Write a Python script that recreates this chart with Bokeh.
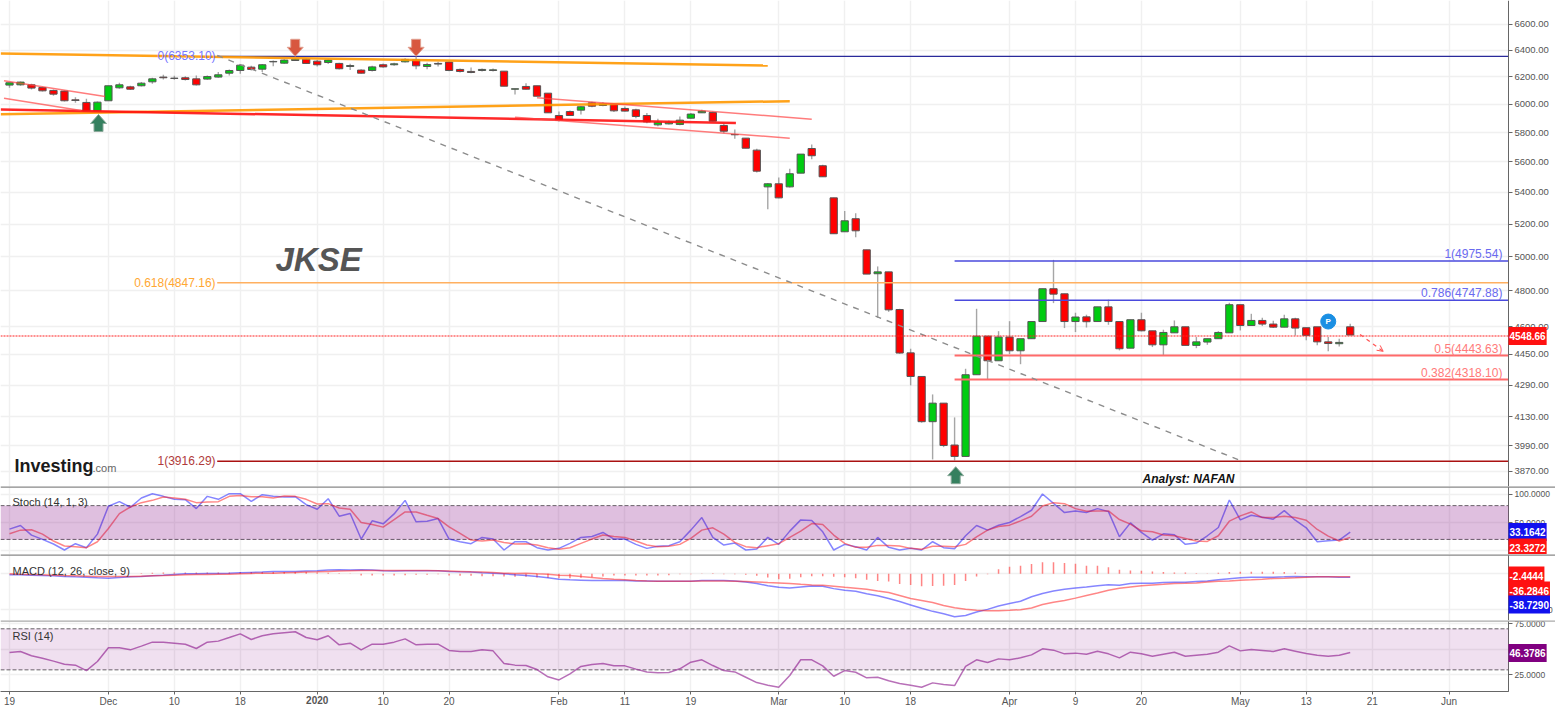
import math
from bokeh.plotting import figure
from bokeh.layouts import column
from bokeh.models import (Range1d, FixedTicker, NumeralTickFormatter, Span, BoxAnnotation, Label,
                          Arrow, OpenHead, LinearAxis, LogAxis)
from bokeh.embed import file_html
from bokeh.resources import INLINE

opens=[6139,6141,6141,6121,6100,6095,6032,6013,5953,6025,6119,6126,6134,6163,6198,6190,6193,6185,6183,6198,6227,6247,6272,6257,6312,6302,6322,6332,6317,6307,6300,6277,6250,6247,6290,6290,6312,6327,6277,6300,6310,6255,6240,6247,6247,6242,6109,6129,6134,6080,5920,5948,5958,6010,5991,5998,5970,5960,5920,5854,5861,5857,5901,5939,5941,5850,5785,5762,5680,5436,5456,5436,5526,5691,5575,5365,5152,5233,5042,4900,4911,4695,4458,4334,4106,4198,3993,3939,4343,4548,4416,4543,4469,4534,4628,4813,4784,4628,4654,4628,4710,4628,4483,4638,4577,4501,4566,4599,4498,4516,4534,4566,4722,4606,4634,4614,4597,4643,4594,4599,4517,4507,4599]
highs=[6156,6166,6148,6126,6107,6100,6051,6039,6020,6134,6156,6134,6161,6193,6215,6207,6205,6210,6210,6235,6255,6295,6282,6295,6322,6332,6340,6340,6325,6332,6305,6297,6257,6282,6300,6305,6340,6360,6305,6312,6317,6262,6269,6262,6262,6242,6112,6153,6134,6080,5948,5956,5986,6018,6015,6003,5984,5967,5937,5897,5885,5913,5937,5960,5948,5861,5822,5762,5689,5462,5497,5555,5653,5718,5581,5365,5281,5268,5042,4943,4911,4699,4480,4334,4242,4198,4127,4374,4699,4548,4575,4630,4532,4628,4813,4982,4784,4677,4666,4710,4750,4628,4638,4677,4577,4583,4634,4599,4543,4534,4575,4733,4722,4671,4649,4632,4666,4649,4594,4566,4543,4534,4616]
lows=[6119,6134,6107,6092,6061,6020,6010,5951,5951,6025,6112,6104,6129,6148,6180,6178,6173,6136,6178,6193,6210,6222,6247,6235,6279,6297,6320,6295,6277,6295,6255,6250,6222,6240,6267,6282,6307,6257,6257,6277,6242,6232,6227,6240,6240,6131,6070,6107,6058,5939,5878,5918,5927,5979,5986,5944,5948,5901,5866,5845,5857,5852,5897,5937,5878,5796,5757,5693,5530,5293,5363,5432,5526,5619,5500,5140,5150,5119,4898,4649,4682,4453,4288,4101,3925,3983,3920,3939,4343,4320,4416,4451,4398,4534,4628,4731,4592,4570,4595,4628,4610,4471,4483,4574,4489,4444,4566,4498,4483,4501,4534,4566,4579,4606,4603,4592,4597,4552,4525,4499,4466,4492,4554]
closes=[6156,6161,6117,6097,6073,6025,6027,5953,6015,6134,6141,6109,6153,6185,6193,6188,6180,6141,6202,6215,6247,6287,6255,6290,6315,6325,6332,6300,6290,6325,6260,6284,6227,6274,6274,6297,6330,6282,6292,6295,6247,6240,6232,6255,6252,6131,6112,6109,6058,5939,5887,5920,5982,5986,6003,5953,5951,5913,5875,5873,5873,5887,5930,5951,5880,5810,5787,5693,5539,5456,5365,5522,5653,5642,5502,5140,5220,5158,4898,4911,4693,4457,4334,4106,4198,3991,3939,4343,4548,4416,4543,4469,4534,4628,4813,4782,4628,4653,4627,4710,4628,4480,4638,4577,4501,4568,4599,4498,4517,4534,4568,4722,4606,4634,4614,4597,4643,4592,4552,4517,4508,4514,4554]
stoch_k=[38.3,44.7,27.7,20.0,11.8,1.2,12.4,5.3,29.4,78.8,87.1,77.1,93.5,101.2,96.5,91.2,90.6,74.7,96.5,91.2,101.2,101.2,87.6,99.4,96.5,95.3,95.9,81.8,73.5,92.3,61.2,65.9,20.6,53.0,47.7,65.3,89.4,51.2,52.4,57.1,20.6,15.9,12.4,23.6,20.6,1.2,15.9,15.9,5.3,1.2,4.1,13.0,23.6,25.3,32.4,20.6,20.6,11.2,4.1,7.7,8.9,15.9,36.5,58.8,23.6,10.0,13.6,1.2,3.0,23.6,11.2,34.7,54.7,53.5,33.5,1.2,11.2,7.1,1.2,23.6,5.9,1.2,4.1,1.2,15.9,5.3,3.6,26.5,44.7,36.5,45.3,50.0,60.6,71.8,100.6,84.1,67.7,70.6,67.7,74.7,69.4,24.7,49.4,32.4,18.8,30.0,28.3,11.2,13.6,26.5,41.2,90.0,54.7,62.9,59.4,55.9,71.2,54.1,40.6,15.9,17.7,18.8,33.0]
stoch_d=[30.0,36.5,37.1,29.4,17.1,8.3,7.1,5.3,15.9,39.4,65.9,77.6,85.3,89.4,95.3,93.5,91.2,85.3,86.5,87.1,96.5,98.2,95.9,95.9,93.5,97.1,96.5,91.2,82.9,83.5,75.9,73.5,50.0,46.5,41.8,55.3,68.8,68.8,62.9,57.1,42.4,30.6,18.8,17.1,18.8,14.7,11.8,12.4,10.0,5.3,2.4,5.3,13.0,20.6,27.7,25.3,23.6,17.1,10.0,7.1,7.7,11.2,21.8,36.5,40.6,29.4,14.7,7.1,5.3,8.9,12.4,23.6,34.7,48.2,46.5,27.7,13.0,5.9,5.9,9.4,9.4,8.3,4.1,2.4,7.7,7.7,7.1,11.2,24.7,36.5,43.0,45.3,53.0,61.2,79.4,85.3,83.5,74.7,70.0,70.6,70.6,55.3,47.1,35.3,33.5,27.7,26.5,21.8,17.1,16.5,26.5,52.4,61.8,68.8,58.8,58.8,61.2,58.8,54.1,37.7,25.9,17.1,23.6]
macd_line=[-11,-11,-15,-19,-22,-30,-34,-37,-45,-49,-41,-34,-30,-22,-15,-7,0,0,4,4,7,11,15,19,26,26,26,30,34,41,45,41,45,41,34,30,34,34,34,34,26,22,19,11,7,0,-11,-19,-30,-45,-60,-67,-71,-75,-75,-75,-75,-79,-79,-82,-82,-82,-82,-75,-75,-75,-79,-90,-108,-131,-150,-157,-146,-135,-138,-164,-183,-194,-221,-243,-273,-307,-344,-381,-415,-441,-475,-460,-422,-393,-355,-329,-303,-254,-217,-191,-172,-157,-146,-131,-120,-127,-108,-105,-105,-97,-93,-93,-86,-79,-67,-56,-45,-37,-37,-37,-34,-30,-34,-34,-34,-37,-37]
macd_signal=[0,-4,-7,-11,-15,-19,-22,-26,-30,-30,-30,-30,-26,-22,-19,-15,-11,-7,-7,-4,-4,0,4,7,7,11,15,19,22,26,30,34,37,37,37,37,37,37,37,34,30,26,22,19,15,7,4,7,0,-4,-15,-19,-30,-41,-52,-60,-67,-75,-79,-82,-82,-82,-82,-79,-79,-79,-82,-86,-90,-97,-101,-108,-116,-123,-127,-138,-150,-161,-172,-191,-206,-239,-273,-295,-318,-351,-374,-393,-404,-407,-407,-404,-396,-378,-340,-314,-295,-269,-239,-213,-183,-161,-146,-131,-123,-116,-108,-105,-101,-90,-82,-79,-71,-67,-60,-52,-49,-45,-37,-34,-34,-34,-34]
macd_hist=[0,0,0,0,0,0,0,0,0,0,0,0,7,11,15,15,15,15,15,15,15,19,19,19,19,19,19,19,15,11,7,4,-19,-19,-19,-19,-15,-11,-11,-4,-19,-22,-22,-26,-26,-30,-34,-34,-41,-45,-49,-49,-45,-37,-30,-19,-19,-19,-19,-19,-15,-4,-4,4,7,-4,-4,-11,-22,-41,-60,-56,-37,-26,-26,-34,-37,-49,-67,-79,-86,-112,-123,-138,-135,-131,-123,-79,-30,-4,49,79,90,108,127,127,120,112,90,90,71,45,37,34,26,19,15,15,7,4,11,19,22,22,22,22,19,15,7,4,0,0,0]
rsi=[46.9,47.9,43.7,41.4,38.5,35.5,34.6,29.3,38.1,51.5,51.5,49.5,53.1,57.0,57.0,56.0,55.0,50.8,57.0,58.0,61.5,65.1,59.6,63.2,65.1,66.1,67.1,61.5,59.3,63.2,54.4,56.0,49.5,55.0,55.0,57.0,60.2,54.4,55.0,55.0,48.9,47.9,47.9,49.5,48.5,36.2,34.6,34.3,30.3,23.2,20.2,26.1,33.3,35.2,36.2,33.9,33.9,30.7,28.0,27.1,27.4,31.0,37.5,39.8,34.2,29.3,28.0,22.8,17.6,15.0,13.1,24.5,39.8,39.8,33.9,23.8,29.3,27.7,22.2,22.8,19.3,16.7,15.0,13.1,17.3,15.7,14.7,33.3,39.8,37.2,40.7,39.8,41.7,44.6,50.5,49.2,45.6,46.3,45.3,48.2,45.6,41.7,47.2,45.6,43.3,45.3,47.2,43.3,44.3,45.3,47.2,53.4,48.5,49.8,48.9,47.9,50.5,48.2,45.9,44.3,43.3,44.3,46.9]

xtick_pos=[0,9,15,21,28,34,40,50,56,62,70,76,82,91,97,103,112,118,124,131]
xtick_lab=["19","Dec","10","18","2020","10","20","Feb","11","19","Mar","10","18","Apr","9","20","May","13","21","Jun"]
price_ticks=[6600,6400,6200,6000,5800,5600,5400,5200,5000,4800,4600,4450,4290,4130,3990,3870]

fib_left=[(6353.10,18.9,"0(6353.10)","#2a2a9a",1.2,"#7777ff"),
          (4847.16,18.9,"0.618(4847.16)","#ffb060",1.5,"#ffa733"),
          (3916.29,18.9,"1(3916.29)","#aa1111",1.5,"#b03a3a")]
fib_right=[(4975.54,86,"1(4975.54)","#4a4add",1.5,"#6a6af0"),
           (4747.88,86,"0.786(4747.88)","#4a4add",1.5,"#6a6af0"),
           (4443.63,86,"0.5(4443.63)","#ff6a6a",2,"#ff7a7a"),
           (4318.10,86,"0.382(4318.10)","#ff6a6a",2,"#ff7a7a")]
trends=[(-0.8,69.0,6375,6284,"#ff9800",2.5,0.9),
        (-0.8,71.0,5929,6022,"#ff9800",2.5,0.9),
        (-0.8,66.1,5963,5867,"#ff1111",2.5,0.9),
        (-0.5,8.7,6171,6056,"#ff4444",1.5,0.7),
        (-0.5,6.5,6044,5956,"#ff4444",1.5,0.7),
        (48.0,73.0,6047,5894,"#ff4444",1.5,0.7),
        (46.0,71.0,5908,5762,"#ff4444",1.5,0.7)]
fib_trend=(18.9,112.0,6360,3920)
last_price=4548.66
forecast=(122.9,125.0,4557,4466)
up_arrows=[(8.1,5927),(86.1,3891)]
down_arrows=[(26.0,6354),(37.0,6354)]
pivot=(120,4628)

FRAME_W=1555; AX=136.4; LEFT=-0.819; RIGHT_X=140.68; RSI_AXIS=8.9
n=len(closes)
assert all(len(a)==n==123 for a in (opens,highs,lows,closes,stoch_k,stoch_d,macd_line,macd_signal,macd_hist,rsi))
xs=list(range(n))
xr=Range1d(LEFT,RIGHT_X)
GRID="#f0f0f0"; AXC="#666666"; TXT="#555555"; FONT="Liberation Sans"

def make(h,yr,ticks,fmt,lab_size,ytype="linear",grid=None,bounds=None):
    p=figure(frame_width=FRAME_W,frame_height=h,x_range=xr,y_range=yr,y_axis_type=ytype,
             x_axis_location=None,y_axis_location=None,toolbar_location=None,
             output_backend="svg",min_border_left=0,min_border_top=0,min_border_bottom=0,min_border_right=0,
             background_fill_color="white",border_fill_color="white",outline_line_color=None)
    p.ygrid.ticker=FixedTicker(ticks=grid or ticks); p.ygrid.grid_line_color=GRID; p.ygrid.grid_line_width=1.5
    p.xgrid.ticker=FixedTicker(ticks=xtick_pos); p.xgrid.grid_line_color=GRID; p.xgrid.grid_line_width=1.5
    p.add_layout(BoxAnnotation(left=AX,fill_color="white",fill_alpha=1,line_color=None,level="underlay"))
    cls=LogAxis if ytype=="log" else LinearAxis
    kw=dict(bounds=bounds) if bounds else {}
    ax=cls(fixed_location=AX,ticker=FixedTicker(ticks=ticks),formatter=NumeralTickFormatter(format=fmt),
           major_label_text_font=FONT,major_label_text_font_size=lab_size,major_label_text_color=TXT,
           axis_line_color=AXC,major_tick_line_color=AXC,major_tick_out=4,major_tick_in=0,
           minor_tick_line_color=None,major_label_standoff=2,**kw)
    p.add_layout(ax,"right")
    return p

def tag(p,text,y):
    p.add_layout(Label(x=12,y=y,x_units="screen",y_units="screen",text=text,text_font=FONT,text_font_size="11px",
                       text_color="#333333",text_baseline="middle"))

def box(p,text,color,y=None,sy=None,size="10px"):
    kw=dict(y=y) if y is not None else dict(y=sy,y_units="screen")
    p.add_layout(Label(x=1508,x_units="screen",text=text,text_color="white",text_font=FONT,text_font_size=size,
                       text_font_style="bold",text_baseline="middle",background_fill_color=color,
                       padding=(1,5),**kw))

def levels(p,vals,color="#666666",dash="4 2",width=1):
    for v in vals:
        p.segment([LEFT],[v],[AX],[v],line_color=color,line_dash=dash,line_width=width)

# ---------- price panel
main=make(486,Range1d(3800,6792),price_ticks,"0.00","9.5px","log")
up=[i for i in xs if closes[i]>=opens[i]]; dn=[i for i in xs if closes[i]<opens[i]]
main.segment(xs,highs,xs,lows,line_color="#888888",line_width=1.4,line_alpha=0.75)
main.vbar(up,0.66,[closes[i] for i in up],[opens[i] for i in up],fill_color="#00cc11",line_color="#555555",line_width=1)
main.vbar(dn,0.66,[opens[i] for i in dn],[closes[i] for i in dn],fill_color="#ff0000",line_color="#555555",line_width=1)
for lv,i0,t,c,w,tc in fib_left+fib_right:
    main.segment([i0],[lv],[AX],[lv],line_color=c,line_width=w)
for a,b,c,d,col,w,al in trends:
    main.line([a,b],[c,d],line_color=col,line_width=w,line_alpha=al)
main.line(fib_trend[:2],fib_trend[2:],line_color="#8c8c8c",line_dash="6 6",line_width=1.4)
levels(main,[last_price],color="#ff2222",dash="2 1",width=1.2)
for lv,i0,t,c,w,tc in fib_left:
    main.add_layout(Label(x=18.75,y=lv,text=t,text_align="right",text_baseline="middle",text_color=tc,text_font=FONT,text_font_size="12px"))
for lv,i0,t,c,w,tc in fib_right:
    main.add_layout(Label(x=135.85,y=lv,y_offset=7,text=t,text_align="right",text_baseline="middle",text_color=tc,text_font=FONT,text_font_size="12px"))
K=837.0
def arrow_shape(ix,tip,sign):
    dx=[0,8,4.5,4.5,-4.5,-4.5,-8]; dy=[0,9,9,17,17,9,9]
    return [ix+a/10.99 for a in dx],[tip*math.exp(-sign*b/K) for b in dy]
for ix,tip in up_arrows:
    xa,ya=arrow_shape(ix,tip,1); main.patch(xa,ya,fill_color="#35805f",line_color="#8aa99a",line_width=1)
for ix,tip in down_arrows:
    xa,ya=arrow_shape(ix,tip,-1); main.patch(xa,ya,fill_color="#d8573f",line_color="#e0a090",line_width=1)
main.add_layout(Arrow(end=OpenHead(size=6,line_color="#ff5555",line_width=1),x_start=forecast[0],x_end=forecast[1],y_start=forecast[2],y_end=forecast[3],
                      line_color="#ff5555",line_dash="4 4",line_width=1.2))
main.scatter([pivot[0]],[pivot[1]],size=15,fill_color="#1a8fe3",line_color="#1a8fe3")
main.add_layout(Label(x=pivot[0],y=pivot[1],text="P",text_color="white",text_font=FONT,text_font_size="8px",text_font_style="bold",text_align="center",text_baseline="middle"))
main.add_layout(Label(x=275,y=486-259,x_units="screen",y_units="screen",text="JKSE",text_font=FONT,text_font_size="33px",text_font_style="bold italic",text_color="#555555",text_baseline="middle"))
main.add_layout(Label(x=14,y=486-465,x_units="screen",y_units="screen",text="Investing",text_font=FONT,text_font_size="18px",text_font_style="bold",text_color="#1a1a1a",text_baseline="middle"))
main.add_layout(Label(x=92,y=486-467,x_units="screen",y_units="screen",text=".com",text_font=FONT,text_font_size="11px",text_color="#666666",text_baseline="middle"))
main.add_layout(Label(x=1142,y=486-478,x_units="screen",y_units="screen",text="Analyst: NAFAN",text_font=FONT,text_font_size="12px",text_font_style="bold italic",text_color="#111111",text_baseline="middle"))
box(main,"4548.66","#ff1111",y=last_price)

# ---------- stochastic
st=make(68,Range1d(-6.8,114),[50,100],"0.0000","8.5px",grid=[0,50,100])
st.add_layout(BoxAnnotation(left=LEFT,right=AX,bottom=20,top=80,fill_color="#800080",fill_alpha=0.25,line_color=None))
levels(st,[20,80])
st.line(xs,stoch_k,line_color="#2222ff",line_width=1.5,line_alpha=0.55)
st.line(xs,stoch_d,line_color="#ff2222",line_width=1.5,line_alpha=0.55)
st.add_layout(Span(location=113.5,dimension="width",line_color="#888888",line_width=2))
tag(st,"Stoch (14, 1, 3)",53)
box(st,"33.1642","#1111ee",y=33.1642); box(st,"23.3272","#ff1111",sy=7)

# ---------- MACD
mc=make(66,Range1d(-516,213),[-400],"0.0000","8.5px",grid=[-400,0])
mc.segment(xs,[0]*n,xs,macd_hist,line_color="#ff3333",line_alpha=0.6,line_width=1.5)
mc.line(xs,macd_line,line_color="#2222ff",line_width=1.5,line_alpha=0.55)
mc.line(xs,macd_signal,line_color="#ff2222",line_width=1.5,line_alpha=0.55)
mc.add_layout(Span(location=211,dimension="width",line_color="#888888",line_width=2))
tag(mc,"MACD (12, 26, close, 9)",50)
box(mc,"-2.4444","#ff1111",sy=45); box(mc,"-36.2846","#ff1111",sy=30); box(mc,"-38.7290","#1111ee",sy=16)

# ---------- RSI (frame runs on below the axis, which leaves room for the date labels)
rs=make(88,Range1d(-7.67,78.1),[25,75],"0.0000","8.5px",grid=[25,50,75],bounds=(RSI_AXIS,78.1))
rs.add_layout(BoxAnnotation(top=RSI_AXIS,fill_color="white",fill_alpha=1,line_color=None,level="underlay"))
rs.add_layout(BoxAnnotation(left=LEFT,right=AX,bottom=30,top=70,fill_color="#800080",fill_alpha=0.12,line_color=None))
levels(rs,[30,70])
rs.line(xs,rsi,line_color="#a040a0",line_width=1.5,line_alpha=0.75)
rs.add_layout(Span(location=77.8,dimension="width",line_color="#aaaaaa",line_width=2))
tag(rs,"RSI (14)",73)
box(rs,"46.3786","#800080",y=46.3786)
normal=[p for p in xtick_pos if p!=28]
common=dict(fixed_location=RSI_AXIS,major_label_text_font=FONT,major_label_text_font_size="10px",major_label_text_color=TXT,
            axis_line_color=AXC,major_tick_line_color=AXC,major_tick_out=3,major_tick_in=0,minor_tick_line_color=None,
            major_label_standoff=2,bounds=(LEFT,AX))
ax_a=LinearAxis(ticker=FixedTicker(ticks=normal),major_label_overrides={a:b for a,b in zip(xtick_pos,xtick_lab)},**common)
ax_b=LinearAxis(ticker=FixedTicker(ticks=[28]),major_label_overrides={28:"2020"},major_label_text_font_style="bold",**common)
rs.add_layout(ax_a,"below"); rs.add_layout(ax_b,"below")

page=column(main,st,mc,rs,spacing=0)
open("out.html","w").write(file_html(page,INLINE))
